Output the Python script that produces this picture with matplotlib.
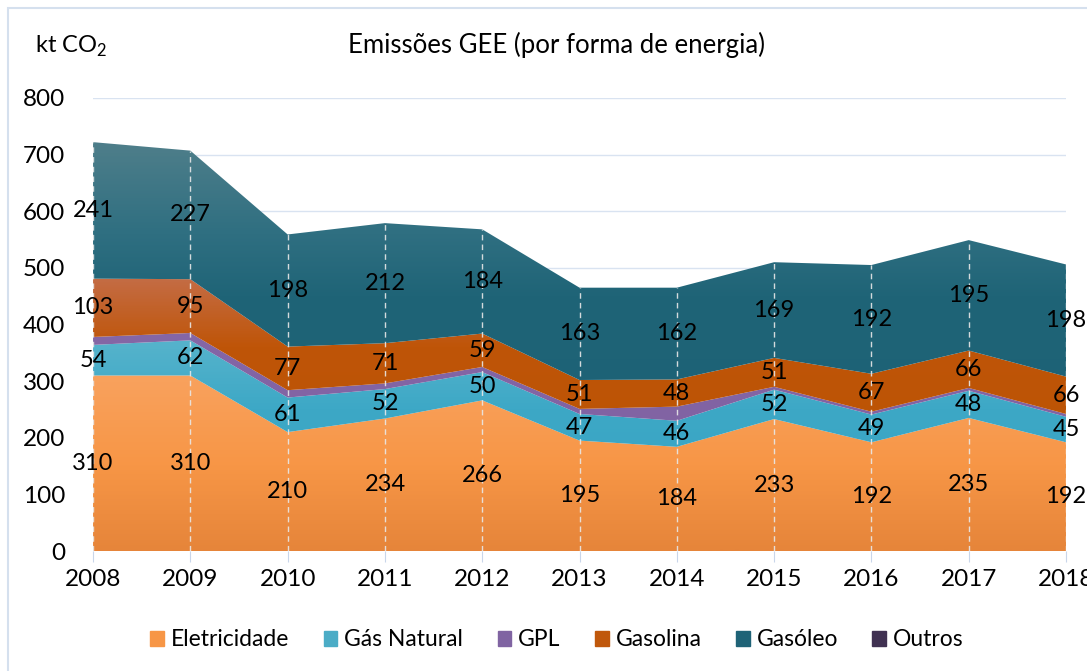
import matplotlib
matplotlib.use('Agg')
import matplotlib.pyplot as plt
import matplotlib.patches as patches
from matplotlib.colors import LinearSegmentedColormap
import numpy as np

plt.rcParams['font.family'] = ['Lato', 'DejaVu Sans']
plt.rcParams['mathtext.fontset'] = 'custom'
plt.rcParams['mathtext.rm'] = 'Lato'

# Data (kt CO2)
anos = [2008, 2009, 2010, 2011, 2012, 2013, 2014, 2015, 2016, 2017, 2018]
eletricidade = [310, 310, 210, 234, 266, 195, 184, 233, 192, 235, 192]
gas_natural = [54, 62, 61, 52, 50, 47, 46, 52, 49, 48, 45]
gpl = [14, 13, 13, 10, 9, 9, 25, 5, 5, 5, 5]
gasolina = [103, 95, 77, 71, 59, 51, 48, 51, 67, 66, 66]
gasoleo = [241, 227, 198, 212, 184, 163, 162, 169, 192, 195, 198]
outros = [0, 0, 0, 0, 0, 0, 0, 0, 0, 0, 0]

series = [
    ('Eletricidade', eletricidade, '#F79646', True,
     [(0, '#E6853A'), (150 / 800, '#F79646'), (310 / 800, '#F9A25E'), (1, '#FBB27C')]),
    ('Gás Natural', gas_natural, '#4BACC6', True,
     [(0, '#36A2C2'), (250 / 800, '#3DA8C6'), (400 / 800, '#5CB6CD'), (1, '#6CBED3')]),
    ('GPL', gpl, '#8064A2', False,
     [(0, '#7C5E9F'), (1, '#8E70AE')]),
    ('Gasolina', gasolina, '#C0580C', True,
     [(0, '#B85200'), (360 / 800, '#BF5508'), (480 / 800, '#C46C44'), (1, '#C87756')]),
    ('Gasóleo', gasoleo, '#1F6377', True,
     [(0, '#1B6074'), (450 / 800, '#1F6477'), (560 / 800, '#2F6F81'), (720 / 800, '#4E7E8A'), (1, '#57848F')]),
    ('Outros', outros, '#403152', False,
     [(0, '#403152'), (1, '#403152')]),
]

fig = plt.figure(figsize=(10.87, 6.71), dpi=100)
ax = fig.add_axes([0.0856, 0.1788, 0.8951, 0.6752])

# chart border
border = patches.Rectangle((8 / 1087, -0.05), 1.1, 1 - 8 / 671 + 0.05, transform=fig.transFigure,
                           fill=False, edgecolor='#D5E0EE', linewidth=1.5)
fig.patches.append(border)

x = np.array(anos, dtype=float)
base = np.zeros(len(anos))
handles = []
for name, vals, col, show_lbl, stops in series:
    v = np.array(vals, dtype=float)
    top = base + v
    poly = ax.fill_between(x, base, top, facecolor='none', edgecolor='none', zorder=2)
    paths = poly.get_paths()
    if v.sum() > 0 and len(paths) > 0:
        cmap = LinearSegmentedColormap.from_list(name, stops)
        grad = np.linspace(0, 1, 400)[:, None]
        im = ax.imshow(grad, extent=[2008, 2018, 0, 800], origin='lower', cmap=cmap,
                       aspect='auto', zorder=2, interpolation='bilinear')
        im.set_clip_path(paths[0], transform=ax.transData)
    if show_lbl:
        for xi, b, vi in zip(x, base, v):
            ax.text(xi, b + vi / 2, str(int(vi)), ha='center', va='center',
                    fontsize=17, color='black', zorder=5)
    handles.append(patches.Patch(facecolor=col, edgecolor=col, label=name))
    base = top

# drop lines
ax.vlines(x, 0, base, colors='#E8E8E8', linestyles=(0, (4, 3)), linewidth=1, zorder=4, alpha=0.9)

ax.set_xlim(2008, 2018)
ax.set_ylim(0, 800)
ax.set_yticks(range(0, 801, 100))
ax.set_xticks(anos)
ax.grid(axis='y', color='#D9E3F1', linewidth=1)
ax.set_axisbelow(True)
for s in ax.spines.values():
    s.set_visible(False)
ax.tick_params(axis='y', length=0, pad=20, labelsize=17.5, colors='black')
ax.tick_params(axis='x', length=8, color='#C9D6EA', pad=5, labelsize=17.5, labelcolor='black')

fig.text(35 / 1087, 1 - 46 / 671, 'kt CO$_2$', fontsize=17, ha='left', va='center')
fig.text(557 / 1087, 1 - 45 / 671, 'Emissões GEE (por forma de energia)', fontsize=18.5,
         ha='center', va='center')

fig.legend(handles=handles, loc='center', bbox_to_anchor=(557 / 1087, 1 - 640 / 671), ncol=6,
           frameon=False, fontsize=16.5, handlelength=0.6, handleheight=0.6, handletextpad=0.3,
           columnspacing=1.5)

fig.savefig('out.png', dpi=100, facecolor='white')
